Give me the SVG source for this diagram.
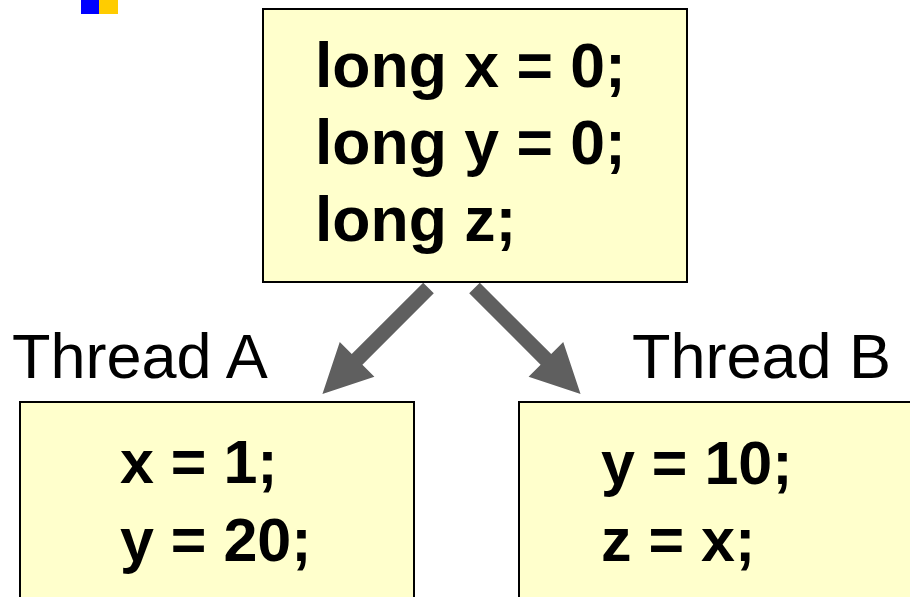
<svg xmlns="http://www.w3.org/2000/svg" width="910" height="597" viewBox="0 0 910 597">
<style>
.box{fill:#ffffcc;stroke:#000;stroke-width:2}
.code{font-family:"Liberation Sans",Arial,sans-serif;font-weight:bold;fill:#000}
.lbl{font-family:"Liberation Sans",Arial,sans-serif;font-size:63px;fill:#000}
.arrow{fill:#5f5f5f}
</style>
<defs>
<polygon id="blockArrow" points="0,-7.5 101,-7.5 101,-24.5 150,0 101,24.5 101,7.5 0,7.5"/>
</defs>
<rect width="910" height="597" fill="#fff"/>
<g id="logo">
<rect x="81" y="0" width="18" height="14" fill="#0000ff"/>
<rect x="99" y="0" width="19" height="14" fill="#ffcc00"/>
</g>
<g id="connectors">
<use href="#blockArrow" class="arrow" transform="translate(428.5,288) rotate(135)"/>
<use href="#blockArrow" class="arrow" transform="translate(474.5,288) rotate(45)"/>
</g>
<g id="shared">
<rect class="box" x="263" y="9" width="424" height="273"/>
<text class="code" font-size="62.5" x="315" y="87">long x = 0;</text>
<text class="code" font-size="62.5" x="315" y="164">long y = 0;</text>
<text class="code" font-size="62.5" x="315" y="241">long z;</text>
</g>
<g id="threadA">
<text class="lbl" x="12" y="378">Thread A</text>
<rect class="box" x="20" y="402" width="394" height="210"/>
<text class="code" font-size="61" x="120" y="483">x = 1;</text>
<text class="code" font-size="61" x="120" y="561">y = 20;</text>
</g>
<g id="threadB">
<text class="lbl" x="632" y="378">Thread B</text>
<rect class="box" x="519" y="402" width="410" height="210"/>
<text class="code" font-size="61" x="601" y="484">y = 10;</text>
<text class="code" font-size="61" x="601" y="561">z = x;</text>
</g>
</svg>
